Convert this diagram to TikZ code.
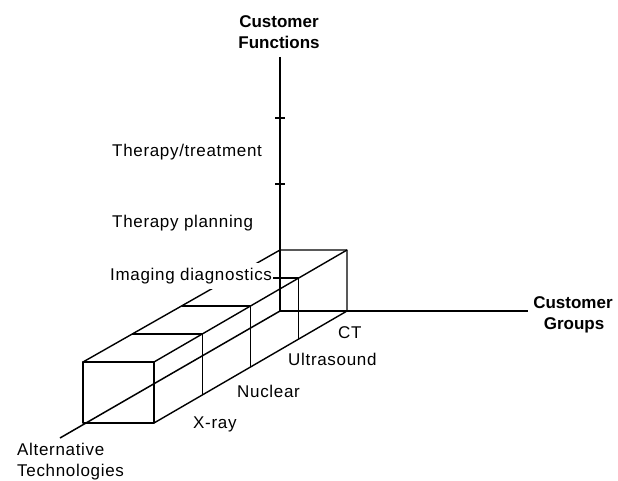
\documentclass[tikz,border=0pt]{standalone}
\usepackage{fontspec}
\setmainfont{Liberation Sans}
\usetikzlibrary{calc}
\begin{document}
\begin{tikzpicture}[x=1pt,y=-1pt,
  axisline/.style={line width=1.5pt},
  boxedge/.style={line width=1.4pt, line join=round},
  lbl/.style={font=\fontsize{17}{21}\selectfont\addfontfeatures{LetterSpace=4}, inner sep=0pt, anchor=base west},
  heading/.style={font=\fontsize{17}{21}\selectfont\bfseries, inner sep=0pt, anchor=base}]
\useasboundingbox (0,0) rectangle (618,481);

% axes end points
\coordinate (O) at (280,311);
\coordinate (funcEnd) at (280,57);
\coordinate (groupEnd) at (528,311);
\coordinate (techEnd) at (60,438);
\coordinate (tickA) at (280,118);
\coordinate (tickB) at (280,184);

% corners of the Imaging diagnostics / CT block
\coordinate (fbl) at (83,423);
\coordinate (fbr) at (154,423);
\coordinate (ftl) at (83,362);
\coordinate (ftr) at (154,362);
\coordinate (bbr) at (347,311);
\coordinate (btl) at (280,250);
\coordinate (btr) at (347,250);

% three axes
\draw[axisline] (funcEnd) -- (O);
\draw[axisline] (O) -- (groupEnd);
\draw[axisline] (techEnd) -- (O);
\foreach \t in {tickA,tickB}
  \draw[axisline] ($(\t)+(-5,0)$) -- ($(\t)+(5,0)$);

% block wireframe
\draw[boxedge] (fbl) rectangle (ftr);
\draw[boxedge] (ftl) -- (btl) -- (btr) -- (bbr) -- (fbr);
\draw[boxedge] (ftr) -- (btr);
\foreach \k in {1,2,3}{
  \draw[boxedge] ($(ftl)!\k/4!(btl)$) -- ($(ftr)!\k/4!(btr)$)
                 -- ($(fbr)!\k/4!(bbr)$);
}

% axis titles
\node[heading] (fn1) at (279,28) {Customer};
\node[heading] (fn2) at (279,49) {Functions};
\node[heading] (gr1) at (573,308) {Customer};
\node[heading] (gr2) at (574,329) {Groups};
\node[lbl] (at1) at (17,455) {Alternative};
\node[lbl] (at2) at (17,476) {Technologies};

% function levels
\node[lbl] (therapy) at (112,157) {Therapy/treatment};
\node[lbl] (planning) at (112,227) {Therapy planning};
\node[lbl, fill=white, inner xsep=1pt, inner ysep=5pt] (imaging) at (109,280) {Imaging diagnostics};

% technologies
\node[lbl] (ct) at (338,338) {CT};
\node[lbl] (us) at (288,365) {Ultrasound};
\node[lbl] (nuc) at (237,397) {Nuclear};
\node[lbl] (xray) at (193,428) {X-ray};
\end{tikzpicture}
\end{document}
